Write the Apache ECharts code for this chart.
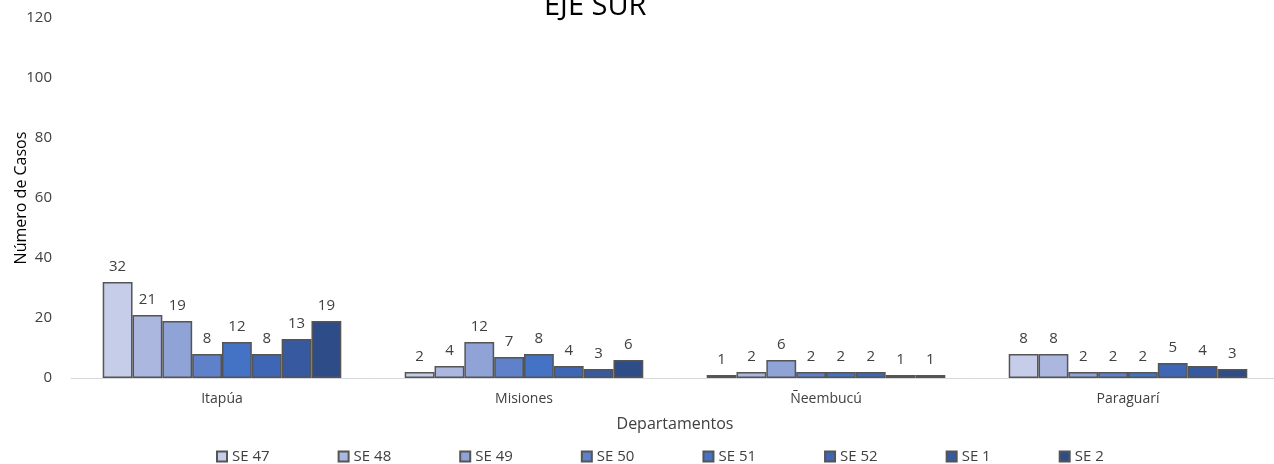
<!DOCTYPE html>
<html><head><meta charset="utf-8">
<script src="https://cdn.jsdelivr.net/npm/echarts@6/dist/echarts.min.js"></script>
<style>html,body{margin:0;padding:0;background:#fff}#c{width:1274px;height:464px}</style>
</head><body><div id="c"></div>
<script>
const categories = ['Itapúa', 'Misiones', 'Ñeembucú', 'Paraguarí'];
const seriesNames = ['SE 47', 'SE 48', 'SE 49', 'SE 50', 'SE 51', 'SE 52', 'SE 1', 'SE 2'];
const se47 = [32, 2, 1, 8];
const se48 = [21, 4, 2, 8];
const se49 = [19, 12, 6, 2];
const se50 = [8, 7, 2, 2];
const se51 = [12, 8, 2, 2];
const se52 = [8, 4, 2, 5];
const se1 = [13, 3, 1, 4];
const se2 = [19, 6, 1, 3];
const yTicks = [0, 20, 40, 60, 80, 100, 120];
const values = [se47, se48, se49, se50, se51, se52, se1, se2];
const colors = ['#c6cde8', '#abb7de', '#8fa3d6', '#5f81c9', '#4472c4', '#3e66b4', '#3659a0', '#2e4d88'];
const font = '"Open Sans", sans-serif';
const chart = echarts.init(document.getElementById('c'));
chart.setOption({
  animation: false,
  title: { text: 'EJE SUR', left: 539, top: -13, textStyle: { fontFamily: font, fontWeight: 'normal', fontSize: 29, color: '#000' } },
  legend: {
    data: seriesNames, bottom: -5, left: 211, itemWidth: 10, itemHeight: 10, itemGap: 68,
    icon: 'rect',
    textStyle: { fontFamily: font, fontSize: 15, color: '#404040' }
  },
  grid: { left: 71, width: 1208, top: 18, height: 360, outerBoundsMode: 'none', containLabel: false },
  xAxis: {
    type: 'category', data: categories,
    name: 'Departamentos', nameLocation: 'middle', nameGap: 38, nameMoveOverlap: false,
    nameTextStyle: { fontFamily: font, fontSize: 16, color: '#404040' },
    axisLine: { lineStyle: { color: '#d9d9d9' } }, axisTick: { show: false },
    axisLabel: { fontFamily: font, fontSize: 14, color: '#404040', margin: 14 }
  },
  yAxis: {
    type: 'value', min: yTicks[0], max: yTicks[yTicks.length - 1], interval: 20,
    name: 'Número de Casos', nameLocation: 'middle', nameGap: 42, nameMoveOverlap: false,
    nameTextStyle: { fontFamily: font, fontSize: 16, color: '#000' },
    splitLine: { show: false }, axisLine: { show: false }, axisTick: { show: false },
    axisLabel: { fontFamily: font, fontSize: 15, color: '#404040', margin: 19 }
  },
  series: seriesNames.map((n, i) => ({
    name: n, type: 'bar', data: values[i], barGap: '0%', barCategoryGap: '21%',
    itemStyle: { color: colors[i], borderColor: '#555555', borderWidth: 1.5 },
    label: { show: true, position: 'top', distance: 8, fontFamily: font, fontSize: 15, color: '#404040' }
  }))
});
</script></body></html>
